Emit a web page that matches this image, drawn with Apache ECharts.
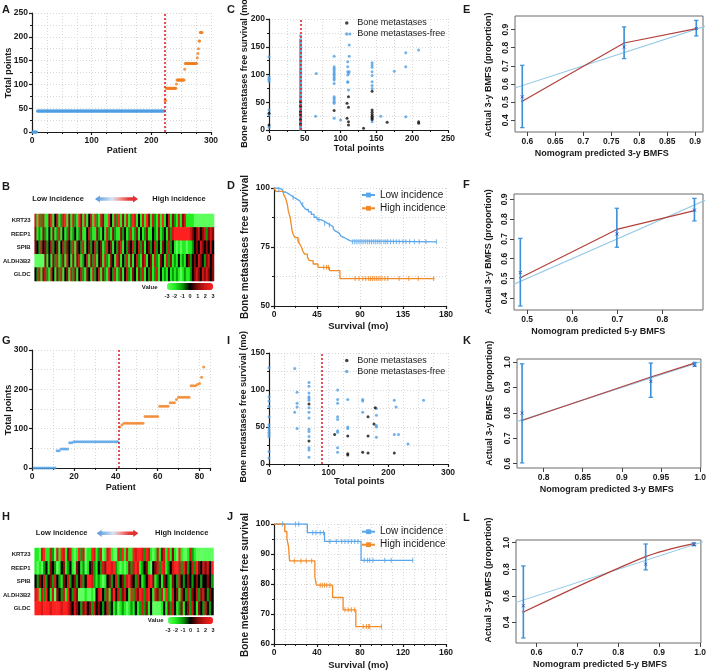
<!DOCTYPE html>
<html><head><meta charset="utf-8">
<script src="https://cdn.jsdelivr.net/npm/echarts@6/dist/echarts.min.js"></script>
<style>html,body{margin:0;padding:0;background:#fff}#c{width:709px;height:671px}</style>
</head><body><div id="c"></div>
<script>
// ===================== DATA =====================
// Panel A (training set risk points)
const A_blueLevels = [0, 44];
const A_blueCounts = [8, 214];
const A_orangeLevels = [66, 92, 101, 109, 132, 144, 156, 165, 175, 191, 209];
const A_orangeCounts = [2, 17, 1, 13, 1, 20, 1, 1, 1, 2, 4];
const A_cutoff = 222.5;

// Panel G (validation set risk points)
const G_blueLevels = [0, 44, 48, 64, 67];
const G_blueCounts = [11, 2, 4, 2, 22];
const G_orangeLevels = [104, 110, 114, 131, 157, 166, 174, 180, 209, 212, 215, 231, 257];
const G_orangeCounts = [1, 1, 10, 7, 5, 3, 1, 6, 3, 1, 1, 1, 1];
const G_cutoff = 41.2;

// Heatmaps
const genes = ['KRT23', 'REEP1', 'SPIB', 'ALDH3B2', 'GLDC'];
const B_KRT23 = [2,-2,3,-1,2,-2,-2,1,3,-2, 0,2,-2,-1,2,3,-2,1,-2,2, -1,-2,3,1,-2,2,-2,0,2,-2, 3,-1,-2,2,1,-2,-2,3,0,-2, 2,-1,3,-2,1,-2,2,-2,-1,3, 2,-2,0,-2,2,-2,3,1,-2,2, -1,-2,2,-2,3,-2,0,2,-2,1, -1,-2,2,-2,1,2,-2,-2,-2,-2, -3,-3,-3,-3,-3,-3,-3,-3,-3,-3];
const B_REEP1 = [1,-2,-1,-2,1,-1,-2,0,-2,1, -2,-1,2,-2,0,-2,-1,1,-2,-1, 0,-2,-1,1,-2,-2,0,2,-1,-2, -2,1,-1,-2,0,-2,2,-1,-2,1, -1,-2,-2,1,-1,0,-2,-1,2,-2, -1,1,-2,0,-2,-1,1,-2,-2,0, -1,-2,1,-2,-1,0,-2,1,-1,2, 3,3,3,3,3,3,3,3,2,1, 0,1,2,0,1,2,-1,1,2,1];
const B_SPIB = [1,0,-1,2,0,1,-1,0,2,-1, 0,1,-2,0,2,-1,1,0,-1,2, -2,1,0,-1,2,-2,0,1,-1,0, 2,-1,0,1,-2,-1,2,0,1,-2, 0,-1,1,2,-2,0,-1,1,0,2, -1,0,2,-1,1,-2,0,1,-1,0, 2,-1,0,-2,1,0,-1,2,-1,0, -2,-3,-2,-3,-2,-2,-3,-2,-2,-1, 0,1,0,2,1,0,1,0,2,0];
const B_ALDH3B2 = [-3,-3,-3,-3,-3,1,-2,0,-2,1, -1,2,-2,-1,1,-2,2,0,-2,1, -2,1,2,-2,-1,0,2,-2,1,-1, 2,-2,0,1,-2,2,-1,-2,1,0, -2,2,1,-2,0,-1,2,-2,1,-2, 0,2,-1,-2,1,2,-2,0,1,-2, 2,-1,-2,1,0,-2,2,-1,1,-2, -1,-2,0,-2,-1,-2,0,1,-1,0, 1,0,2,1,0,-1,1,2,0,1];
const B_GLDC = [0,-1,2,-2,1,2,-1,-2,2,0, -2,1,-1,2,-2,0,1,-2,2,-1, 1,-2,0,2,-1,-2,1,0,-2,2, -1,0,2,-2,1,-1,-2,2,0,-1, 2,-2,-1,1,-2,0,2,-1,-2,1, 0,-2,1,-1,2,-2,0,-1,1,-2, -1,2,-2,0,-2,-1,-2,0,-2,-1, -2,-1,-2,-3,-2,-1,-2,-2,-1,0, 1,2,1,0,2,1,2,1,0,1];

const H_KRT23 = [-2,-2,-3,2,3,-2,-2,2,-1,-3, 2,-2,3,2,-2,1,2,-2,-3,-2, 3,-1,2,-3,-2,-2,3,2,-2,-1, 2,-3,-2,2,3,-2,-3,-3,2,-1, 3,-2,2,-2,-2,3,2,3,3,2, -1,3,2,-2,-3,-2,2,-2,1,2, -2,3,-2,1,-2,-3,3,-2,-3,-3, -2,2,-1,-2,-3,-3,-3,-3,-3,-3, -3,-3];
const H_REEP1 = [-2,-3,-2,-3,-1,0,-2,1,0,-1, -3,-2,0,1,-2,-1,0,-2,-3,1, 0,-2,-1,-3,-2,0,1,-1,-2,0, -1,2,1,3,3,2,3,-1,-2,-3, -2,-3,-2,1,-1,2,3,2,-2,-1, 0,1,-2,-3,0,1,2,-1,3,2, -2,-1,0,2,3,3,2,-1,3,1, -1,0,2,-1,3,1,0,2,1,2, 0,3];
const H_SPIB = [0,-1,1,0,2,-1,0,1,-1,2, 0,-1,-2,1,0,2,-1,0,1,-1, 0,2,-1,0,3,3,2,-1,-2,-1, -2,-3,-2,0,1,-1,0,2,-1,0, 1,-1,2,3,1,0,-1,2,0,-2, -1,0,2,3,1,-2,-1,0,-2,1, 0,-1,-2,1,0,-1,2,0,-1,0, 1,0,-1,0,1,0,-1,0,0,1, 0,-1];
const H_ALDH3B2 = [2,3,-2,2,-1,3,0,-2,2,-3, 1,0,-1,2,-2,3,0,-1,2,1, -3,-3,-3,-2,-3,-3,-2,-3,0,2, 3,0,-1,2,-2,1,3,0,2,-1, 1,2,0,-2,3,-1,2,1,3,2, -1,2,3,0,-2,2,1,-1,2,-2, 3,-1,-2,2,0,1,-2,2,0,-1, 2,-1,1,0,2,-1,1,2,0,-1, 1,0];
const H_GLDC = [3,3,3,2,3,3,3,2,3,3, 3,3,2,3,3,2,1,0,2,1, 0,-1,1,2,0,1,-1,2,0,1, 0,-1,0,2,-1,0,-2,-1,-3,-2, -1,-2,-3,-2,-1,-2,0,-2,-1,2, -1,1,-2,0,-3,-3,-3,-3,-2,0, -2,1,-1,2,0,-2,-1,1,-2,0, 1,-1,2,0,-2,1,0,-1,2,0, -1,0];
const colorbarTicks = [-3, -2, -1, 0, 1, 2, 3];

// Panel C scatter (total points vs BMFS)
const C_free = [[0,132],[0,96],[0,93],[0,91],[0,88],[0,36],[0,27],[0,5],
  [44,1],[44,3],[44,4],[44,7],[44,8],[44,10],[44,12],[44,14],[44,15],[44,17],[44,20],[44,22],[44,23],[44,25],[44,28],[44,30],[44,31],[44,34],[44,36],[44,38],[44,41],[44,44],[44,46],[44,48],[44,53],[44,55],[44,58],[44,60],[44,62],[44,64],[44,67],[44,69],[44,72],[44,74],[44,77],[44,79],[44,82],[44,84],[44,86],[44,89],[44,91],[44,94],[44,96],[44,99],[44,101],[44,104],[44,106],[44,109],[44,111],[44,114],[44,117],[44,119],[44,122],[44,125],[44,127],[44,130],[44,133],[44,136],[44,139],[44,142],[44,145],[44,148],[44,151],[44,154],[44,157],[44,160],[44,163],[44,170],
  [66,102],[65,25],
  [91,133],[91,114],[91,111],[91,108],[91,105],[91,102],[91,99],[91,96],[91,93],[91,90],[91,84],[91,60],[91,57],[91,54],[91,51],[91,48],[91,21],
  [100,18],
  [110,123],[110,114],[110,105],[110,99],[110,87],[110,86],[111,72],
  [113,173],[112,153],[112,133],[112,105],[111,102],
  [144,121],[144,117],[144,113],[144,105],[144,98],[144,87],[144,80],[144,75],[144,21],[144,15],
  [156,25],[175,106],[191,139],[191,114],[191,24],[209,144]];
const C_met = [[0,30],[0,9],[44,51],[44,43],[44,33],[44,27],[44,19],[44,11],[91,35],
  [111,60],[109,48],[111,41],[109,21],[111,15],[111,9],[132,3],
  [144,70],[144,36],[144,32],[144,28],[144,25],[144,22],[144,19],[165,14],[209,15],[209,12]];
const C_cutoff = 44;

// Panel I scatter
const I_free = [[0,130],[0,91],[0,85],[0,78],[0,64],[0,53],[0,49],[0,46],[0,43],[0,40],[0,37],[0,17],[0,8],
  [43,129],[43,70],[47,97],[47,82],[47,77],[47,48],
  [67,110],[67,105],[67,96],[67,91],[67,89],[67,86],[67,76],[67,70],[67,62],[67,47],[67,44],[67,37],[67,22],[67,19],[67,9],
  [115,100],[115,87],[115,82],[115,64],[115,60],[115,45],[115,43],[115,22],[115,16],
  [132,87],[132,50],[132,48],[157,87],[157,85],[157,70],
  [180,75],[180,66],[180,52],[180,50],[180,36],
  [210,86],[210,40],[213,77],[217,40],[233,27],[259,86]];
const I_met = [[67,81],[67,31],[110,40],[132,38],[132,14],[132,12],[157,16],[166,64],[166,38],[166,15],[176,54],[178,76],[210,15]];
const I_cutoff = 88;

// Panel D Kaplan-Meier (training)
const D_low_t = [0,5,9,12,15,18,21,24,27,29,31,33,36,39,42,45,49,53,56,59,62,64,66,68,70,72,74,77,80,170];
const D_low_s = [100,99.3,98.3,97.6,96.8,96.0,95.3,94.5,93.8,93.0,92.0,90.9,89.9,88.8,87.6,86.6,85.8,85.0,84.3,83.6,82.7,81.8,81.0,80.3,79.6,78.9,78.2,77.6,77.2,77.2];
const D_low_cens = [5,20,30,47,53,58,82,84,86,88,90,92,94,96,98,100,102,104,106,108,110,112,115,117,119,122,125,128,131,135,138,142,147,152,159,170];
const D_high_t = [0,2,10,12,14,15,16,17,18,19,20,22,25,27,29,30,32,35,37,41,46,58,69,168];
const D_high_s = [100,98.6,97.2,95.8,93.0,90.2,88.8,87.4,84.6,81.8,80.4,79.0,77.6,76.2,74.8,73.4,72.0,70.6,69.2,67.8,66.4,65.0,61.6,61.6];
const D_high_cens = [26,52,55,57,85,89,93,96,99,101,103,105,107,109,111,113,116,119,131,141,151,167];

// Panel J Kaplan-Meier (validation)
const J_low_t = [0,31,47,81,129];
const J_low_s = [100,97.1,94.2,87.9,87.9];
const J_low_cens = [8,20,23,36,39,43,46,52,58,63,66,69,72,75,78,84,87,89,92,103,109,129];
const J_high_t = [0,10,12,13.5,14.5,38,39.5,54.5,64.3,76.1,100];
const J_high_s = [100,97.5,95.2,92.5,87.7,82.3,79.6,75.5,71.4,65.8,65.8];
const J_high_cens = [19,25,30,35,43,45,47,49,52,66,69,72,75,83,86,88,89,100];

// Calibration panels: predicted, observed (red), bar low, bar high, KM mark
const E_pred = [0.591, 0.773, 0.902];
const E_obs = [0.505, 0.826, 0.905];
const E_lo = [0.359, 0.740, 0.865];
const E_hi = [0.703, 0.915, 0.951];
const E_mark = [0.529, 0.804, 0.906];
const F_pred = [0.485, 0.699, 0.871];
const F_obs = [0.504, 0.748, 0.843];
const F_lo = [0.361, 0.658, 0.791];
const F_hi = [0.703, 0.855, 0.905];
const F_mark = [0.530, 0.725, 0.846];
const K_pred = [0.7725, 0.937, 0.993];
const K_obs = [0.770, 0.941, 0.996];
const K_lo = [0.603, 0.861, 0.984];
const K_hi = [0.993, 0.996, 0.999];
const K_mark = [0.799, 0.924, 0.986];
const L_pred = [0.568, 0.867, 0.985];
const L_obs = [0.478, 0.895, 0.993];
const L_lo = [0.283, 0.795, 0.978];
const L_hi = [0.825, 0.990, 0.999];
const L_mark = [0.525, 0.838, 0.983];
const idealLine = [[0, 0], [1.1, 1.1]];

const E_xticks = [0.6, 0.65, 0.7, 0.75, 0.8, 0.85, 0.9];
const E_yticks = [0.4, 0.5, 0.6, 0.7, 0.8, 0.9];
const F_xticks = [0.5, 0.6, 0.7, 0.8];
const F_yticks = [0.4, 0.5, 0.6, 0.7, 0.8, 0.9];
const K_xticks = [0.8, 0.85, 0.9, 0.95, 1.0];
const K_yticks = [0.6, 0.7, 0.8, 0.9, 1.0];
const L_xticks = [0.6, 0.7, 0.8, 0.9, 1.0];
const L_yticks = [0.4, 0.6, 0.8, 1.0];

// ===================== HELPERS =====================
const FONT = '"Liberation Sans", Arial, sans-serif';
const INK = '#1a1a1a';
const BLUE = '#4f9fe3';
const ORANGE = '#f07f22';
const GRIDC = '#cdcdcd';

function expandRuns(levels, counts, start) {
  const out = []; let p = start;
  levels.forEach((v, i) => { for (let k = 0; k < counts[i]; k++) out.push([p++, v]); });
  return out;
}
function pairs(ts, ss) { return ts.map((t, i) => [t, ss[i]]); }
function survAt(ts, ss, t) { let s = ss[0]; for (let i = 0; i < ts.length; i++) if (ts[i] <= t) s = ss[i]; return s; }
function heatData(rows) {
  const d = [];
  rows.forEach((r, ri) => r.forEach((v, ci) => d.push([ci, ri, v])));
  return d;
}
function fmtR(v) { let s = String(Math.round(v * 100) / 100); if (s.indexOf('.') < 0) s += '.0'; return s; }

const lbl = { color: INK, fontSize: 8.5, fontWeight: 'bold', fontFamily: FONT };

function gpAxis(gi, min, max, interval, minorN, isY, extra) {
  return Object.assign({
    gridIndex: gi, type: 'value', min: min, max: max, interval: interval,
    axisLine: { show: true, onZero: false, lineStyle: { color: INK, width: 1.2 } },
    axisTick: { show: true, inside: false, length: 3, lineStyle: { color: INK, width: 1.2 } },
    minorTick: { show: true, splitNumber: minorN, length: 2, lineStyle: { color: INK, width: 1 } },
    axisLabel: Object.assign({ margin: 4 }, lbl),
    splitLine: { show: true, lineStyle: { color: GRIDC, type: [1, 2], width: 0.8 } },
    minorSplitLine: { show: true, lineStyle: { color: GRIDC, type: [1, 2], width: 0.8 } }
  }, extra || {});
}
function rAxis(gi, min, max, ticks, isY) {
  return {
    gridIndex: gi, type: 'value', min: min, max: max,
    axisLine: { show: false },
    axisTick: { show: true, length: 4, customValues: ticks, lineStyle: { color: '#444', width: 1 } },
    axisLabel: Object.assign({ customValues: ticks, formatter: fmtR, rotate: isY ? 90 : 0, margin: 5 }, lbl),
    splitLine: { show: false }
  };
}

function errSeries(gi, pred, lo, hi, mark) {
  return {
    type: 'custom', xAxisIndex: gi, yAxisIndex: gi, silent: true, z: 5,
    data: pred.map((p, i) => [p, lo[i], hi[i], mark[i]]),
    renderItem: function (params, api) {
      const x = api.value(0);
      const a = api.coord([x, api.value(1)]);
      const b = api.coord([x, api.value(2)]);
      const m = api.coord([x, api.value(3)]);
      const c = 2.2, k = 1.5, col = '#3a8fd6';
      return {
        type: 'group', children: [
          { type: 'line', shape: { x1: a[0], y1: a[1], x2: b[0], y2: b[1] }, style: { stroke: col, lineWidth: 1.6 } },
          { type: 'line', shape: { x1: a[0] - c, y1: a[1], x2: a[0] + c, y2: a[1] }, style: { stroke: col, lineWidth: 1.2 } },
          { type: 'line', shape: { x1: b[0] - c, y1: b[1], x2: b[0] + c, y2: b[1] }, style: { stroke: col, lineWidth: 1.2 } },
          { type: 'line', shape: { x1: m[0] - k, y1: m[1] - k, x2: m[0] + k, y2: m[1] + k }, style: { stroke: '#3355cc', lineWidth: 0.9 } },
          { type: 'line', shape: { x1: m[0] - k, y1: m[1] + k, x2: m[0] + k, y2: m[1] - k }, style: { stroke: '#3355cc', lineWidth: 0.9 } }
        ]
      };
    }
  };
}
function calibSeries(gi, pred, obs, lo, hi, mark, smooth) {
  return [
    { type: 'line', xAxisIndex: gi, yAxisIndex: gi, data: idealLine, symbol: 'none', clip: true, silent: true,
      lineStyle: { color: '#95c8e6', width: 1.1 }, z: 2 },
    { type: 'line', xAxisIndex: gi, yAxisIndex: gi, data: pairs(pred, obs), symbol: 'circle', symbolSize: 2.2, smooth: smooth ? 0.3 : false,
      itemStyle: { color: '#b3403b' }, lineStyle: { color: '#b3403b', width: 1.2 }, silent: true, z: 3 },
    errSeries(gi, pred, lo, hi, mark)
  ];
}
function kmSeries(gi, name, ts, ss, cens, color) {
  return [
    { name: name, type: 'line', step: 'end', xAxisIndex: gi, yAxisIndex: gi, data: pairs(ts, ss),
      symbol: 'rect', symbolSize: [1.3, 6], showSymbol: false, itemStyle: { color: color },
      lineStyle: { color: color, width: 1.3 }, silent: true, z: 3 },
    { name: name + ' censored', type: 'scatter', xAxisIndex: gi, yAxisIndex: gi,
      data: cens.map(t => [t, survAt(ts, ss, t)]), symbol: 'rect', symbolSize: [1.1, 5],
      itemStyle: { color: color }, silent: true, z: 4 }
  ];
}
function cutLine(x) {
  return { silent: true, symbol: 'none', label: { show: false }, animation: false,
    lineStyle: { color: '#e0252a', type: [2, 2], width: 1.6 }, data: [{ xAxis: x }] };
}

// ===================== OPTION =====================
const grids = [
  { left: 32, top: 13, width: 179, height: 119 },          // 0 A
  { left: 32, top: 214, width: 182, height: 67 },          // 1 B
  { left: 269, top: 19, width: 179, height: 111 },         // 2 C
  { left: 274, top: 188, width: 172, height: 118 },        // 3 D
  { left: 515, top: 16, width: 188, height: 116, show: true, borderColor: '#6a6a6a', borderWidth: 1 }, // 4 E
  { left: 514, top: 194, width: 189, height: 116, show: true, borderColor: '#6a6a6a', borderWidth: 1 }, // 5 F
  { left: 32, top: 350, width: 178, height: 118 },         // 6 G
  { left: 31, top: 548, width: 182.5, height: 67 },        // 7 H
  { left: 269, top: 353, width: 179, height: 111 },        // 8 I
  { left: 274, top: 524, width: 172, height: 120 },        // 9 J
  { left: 517, top: 359, width: 185.5, height: 109, show: true, borderColor: '#6a6a6a', borderWidth: 1 }, // 10 K
  { left: 516, top: 540, width: 187, height: 103, show: true, borderColor: '#6a6a6a', borderWidth: 1 },   // 11 L
  { left: 167, top: 290, width: 46, height: 1 },           // 12 B colorbar ticks
  { left: 168, top: 624, width: 45, height: 1 }            // 13 H colorbar ticks
];

const colIdxB = B_KRT23.map((_, i) => i);
const colIdxH = H_KRT23.map((_, i) => i);
const heatY = (gi) => ({ gridIndex: gi, type: 'category', data: genes, inverse: true,
  axisLine: { show: false }, axisTick: { show: false },
  axisLabel: { color: INK, fontSize: 6, fontWeight: 'bold', fontFamily: FONT, margin: 4 } });
const cbX = (gi) => ({ gridIndex: gi, type: 'value', min: -3, max: 3, interval: 1,
  axisLine: { show: false }, axisTick: { show: false }, splitLine: { show: false },
  axisLabel: { color: INK, fontSize: 5.5, fontWeight: 'bold', fontFamily: FONT, margin: 2, customValues: colorbarTicks } });

const xAxes = [
  gpAxis(0, 0, 300, 100, 4, false),
  { gridIndex: 1, type: 'category', data: colIdxB, show: false },
  gpAxis(2, 0, 250, 50, 2, false),
  gpAxis(3, 0, 180, 45, 2, false),
  rAxis(4, 0.578, 0.914, E_xticks, false),
  rAxis(5, 0.471, 0.890, F_xticks, false),
  gpAxis(6, 0, 85, 20, 2, false, { axisLabel: Object.assign({ margin: 4, showMaxLabel: false }, lbl) }),
  { gridIndex: 7, type: 'category', data: colIdxH, show: false },
  gpAxis(8, 0, 300, 100, 4, false),
  gpAxis(9, 0, 160, 40, 4, false),
  rAxis(10, 0.766, 1.001, K_xticks, false),
  rAxis(11, 0.550, 1.002, L_xticks, false),
  cbX(12), cbX(13)
];
const yAxes = [
  gpAxis(0, 0, 250, 50, 2, true),
  heatY(1),
  gpAxis(2, 0, 200, 50, 2, true),
  gpAxis(3, 50, 100, 25, 2, true),
  rAxis(4, 0.335, 0.975, E_yticks, true),
  rAxis(5, 0.341, 0.927, F_yticks, true),
  gpAxis(6, 0, 300, 100, 2, true),
  heatY(7),
  gpAxis(8, 0, 150, 50, 2, true),
  gpAxis(9, 60, 100, 10, 2, true),
  rAxis(10, 0.583, 1.012, K_yticks, true),
  rAxis(11, 0.245, 1.020, L_yticks, true),
  { gridIndex: 12, type: 'value', show: false }, { gridIndex: 13, type: 'value', show: false }
];

const series = [];
// A
series.push({ type: 'scatter', xAxisIndex: 0, yAxisIndex: 0, data: expandRuns(A_blueLevels, A_blueCounts, 1),
  symbolSize: 3, itemStyle: { color: BLUE }, silent: true, markLine: cutLine(A_cutoff) });
series.push({ type: 'scatter', xAxisIndex: 0, yAxisIndex: 0, data: expandRuns(A_orangeLevels, A_orangeCounts, 223),
  symbolSize: 3, itemStyle: { color: ORANGE }, silent: true });
// B heat
series.push({ type: 'heatmap', xAxisIndex: 1, yAxisIndex: 1, silent: true,
  data: heatData([B_KRT23, B_REEP1, B_SPIB, B_ALDH3B2, B_GLDC]) });
// C
series.push({ name: 'Bone metastases-free', type: 'scatter', xAxisIndex: 2, yAxisIndex: 2, data: C_free,
  symbolSize: 3, itemStyle: { color: BLUE }, silent: true, markLine: cutLine(C_cutoff) });
series.push({ name: 'Bone metastases', type: 'scatter', xAxisIndex: 2, yAxisIndex: 2, data: C_met,
  symbolSize: 3, itemStyle: { color: '#111' }, silent: true, z: 4 });
// D
series.push(...kmSeries(3, 'Low incidence', D_low_t, D_low_s, D_low_cens, '#5aa6ea'));
series.push(...kmSeries(3, 'High incidence', D_high_t, D_high_s, D_high_cens, '#f28a26'));
// E, F
series.push(...calibSeries(4, E_pred, E_obs, E_lo, E_hi, E_mark, false));
series.push(...calibSeries(5, F_pred, F_obs, F_lo, F_hi, F_mark, false));
// G
series.push({ type: 'scatter', xAxisIndex: 6, yAxisIndex: 6, data: expandRuns(G_blueLevels, G_blueCounts, 1),
  symbolSize: 3, itemStyle: { color: BLUE }, silent: true, markLine: cutLine(G_cutoff) });
series.push({ type: 'scatter', xAxisIndex: 6, yAxisIndex: 6, data: expandRuns(G_orangeLevels, G_orangeCounts, 42),
  symbolSize: 3, itemStyle: { color: ORANGE }, silent: true });
// H heat
const hIndex = series.length;
series.push({ type: 'heatmap', xAxisIndex: 7, yAxisIndex: 7, silent: true,
  data: heatData([H_KRT23, H_REEP1, H_SPIB, H_ALDH3B2, H_GLDC]) });
// I
series.push({ name: 'Bone metastases-free', type: 'scatter', xAxisIndex: 8, yAxisIndex: 8, data: I_free,
  symbolSize: 3, itemStyle: { color: BLUE }, silent: true, markLine: cutLine(I_cutoff) });
series.push({ name: 'Bone metastases', type: 'scatter', xAxisIndex: 8, yAxisIndex: 8, data: I_met,
  symbolSize: 3, itemStyle: { color: '#111' }, silent: true, z: 4 });
// J
series.push(...kmSeries(9, 'Low incidence', J_low_t, J_low_s, J_low_cens, '#5aa6ea'));
series.push(...kmSeries(9, 'High incidence', J_high_t, J_high_s, J_high_cens, '#f28a26'));
// K, L
series.push(...calibSeries(10, K_pred, K_obs, K_lo, K_hi, K_mark, false));
series.push(...calibSeries(11, L_pred, L_obs, L_lo, L_hi, L_mark, true));

const heatColors = ['#5cff5c', '#22ee22', '#0a9a0a', '#000000', '#8a0a0a', '#d01818', '#ff2020'];
const visualMaps = [
  { type: 'continuous', seriesIndex: 2, min: -3, max: 3, orient: 'horizontal', left: 167, top: 283,
    itemWidth: 7, itemHeight: 46, calculable: false, hoverLink: false, padding: 0, text: null,
    inRange: { color: heatColors } },
  { type: 'continuous', seriesIndex: hIndex, min: -3, max: 3, orient: 'horizontal', left: 168, top: 617,
    itemWidth: 7, itemHeight: 45, calculable: false, hoverLink: false, padding: 0, text: null,
    inRange: { color: heatColors } }
];

const legTxt = { color: INK, fontSize: 9, fontFamily: FONT, lineHeight: 11 };
const legTxtKM = { color: INK, fontSize: 10, fontFamily: FONT, lineHeight: 13 };
const legends = [
  { data: ['Bone metastases', 'Bone metastases-free'], orient: 'vertical', left: 345, top: 17.5, itemWidth: 11, itemHeight: 3.5,
    itemGap: 0, padding: 0, textStyle: legTxt, selectedMode: false },
  { data: ['Bone metastases', 'Bone metastases-free'], orient: 'vertical', left: 345, top: 355, itemWidth: 11, itemHeight: 3.5,
    itemGap: 0, padding: 0, textStyle: legTxt, selectedMode: false },
  { data: ['Low incidence', 'High incidence'], orient: 'vertical', left: 361, top: 188.5, itemWidth: 13, itemHeight: 6,
    itemGap: 0.3, padding: 0, textStyle: legTxtKM, selectedMode: false },
  { data: ['Low incidence', 'High incidence'], orient: 'vertical', left: 361, top: 525.2, itemWidth: 13, itemHeight: 6,
    itemGap: 0, padding: 0, textStyle: legTxtKM, selectedMode: false }
];

function T(x, y, text, size, weight, rot, align) {
  return { type: 'text', x: x, y: y, rotation: rot ? Math.PI / 2 : 0, silent: true,
    style: { text: text, fontSize: size, fontWeight: weight, fontFamily: FONT, fill: INK,
      align: align || 'center', verticalAlign: 'middle' } };
}
function letter(x, y, t) {
  return { type: 'text', x: x, y: y, silent: true,
    style: { text: t, fontSize: 11, fontWeight: 'bold', fontFamily: FONT, fill: INK, align: 'left', verticalAlign: 'top' } };
}
function arrow(x0, x1, yc) {
  const h = 5, b = 1.7, hw = 3.6;
  return { type: 'polygon', silent: true,
    shape: { points: [[x0, yc], [x0 + h, yc - hw], [x0 + h, yc - b], [x1 - h, yc - b], [x1 - h, yc - hw], [x1, yc],
      [x1 - h, yc + hw], [x1 - h, yc + b], [x0 + h, yc + b], [x0 + h, yc + hw]] },
    style: { fill: new echarts.graphic.LinearGradient(0, 0, 1, 0, [
      { offset: 0, color: '#4f95da' }, { offset: 0.4, color: '#d6e4f3' }, { offset: 0.55, color: '#f2a3a3' },
      { offset: 0.78, color: '#e63a3a' }, { offset: 1, color: '#e02a2a' }]) } };
}

const graphics = [
  letter(2, 4, 'A'), letter(2, 181, 'B'), letter(227, 4, 'C'), letter(227, 180, 'D'),
  letter(463, 4, 'E'), letter(463, 179, 'F'), letter(2, 335, 'G'), letter(2, 511, 'H'),
  letter(227, 335, 'I'), letter(227, 511, 'J'), letter(463, 335, 'K'), letter(463, 512, 'L'),
  // axis titles
  T(121.7, 151, 'Patient', 9, 'bold'), T(8.3, 73, 'Total points', 9, 'bold', true),
  T(359, 148.5, 'Total points', 9, 'bold'), T(245, 72, 'Bone metastases free survival (mo)', 9, 'bold', true),
  T(358.3, 326.7, 'Survival (mo)', 9.5, 'bold'), T(245, 247, 'Bone metastases free survival', 10, 'bold', true),
  T(601.7, 154, 'Nomogram predicted 3-y BMFS', 9, 'bold'), T(488.3, 75, 'Actual 3-y BMFS (proportion)', 9, 'bold', true),
  T(598.3, 331.7, 'Nomogram predicted 5-y BMFS', 9, 'bold'), T(488.3, 251.7, 'Actual 3-y BMFS (proportion)', 9, 'bold', true),
  T(120.7, 487.3, 'Patient', 9, 'bold'), T(8.3, 410, 'Total points', 9, 'bold', true),
  T(359.3, 481.7, 'Total points', 9, 'bold'), T(243.3, 406.7, 'Bone metastases free survival (mo)', 9, 'bold', true),
  T(358.3, 665, 'Survival (mo)', 9.5, 'bold'), T(245, 585, 'Bone metastases free survival', 10, 'bold', true),
  T(606.7, 489.3, 'Nomogram predicted 3-y BMFS', 9, 'bold'), T(489.3, 403.3, 'Actual 3-y BMFS (proportion)', 9, 'bold', true),
  T(600, 665, 'Nomogram predicted 5-y BMFS', 9, 'bold'), T(488.3, 580, 'Actual 3-y BMFS (proportion)', 9, 'bold', true),
  // heatmap headers
  T(58, 199, 'Low incidence', 7.5, 'bold'), T(179, 199, 'High incidence', 7.5, 'bold'), arrow(95, 138, 199),
  T(61.7, 533.3, 'Low incidence', 7.5, 'bold'), T(181.7, 533.3, 'High incidence', 7.5, 'bold'), arrow(96.7, 138.3, 533.3),
  T(157.5, 287, 'Value', 6, 'bold', false, 'right'), T(163.5, 620.7, 'Value', 6, 'bold', false, 'right')
];

const chart = echarts.init(document.getElementById('c'), null, { renderer: 'canvas' });
chart.setOption({
  animation: false,
  backgroundColor: '#ffffff',
  grid: grids, xAxis: xAxes, yAxis: yAxes,
  series: series, visualMap: visualMaps, legend: legends, graphic: graphics
});
</script></body></html>
